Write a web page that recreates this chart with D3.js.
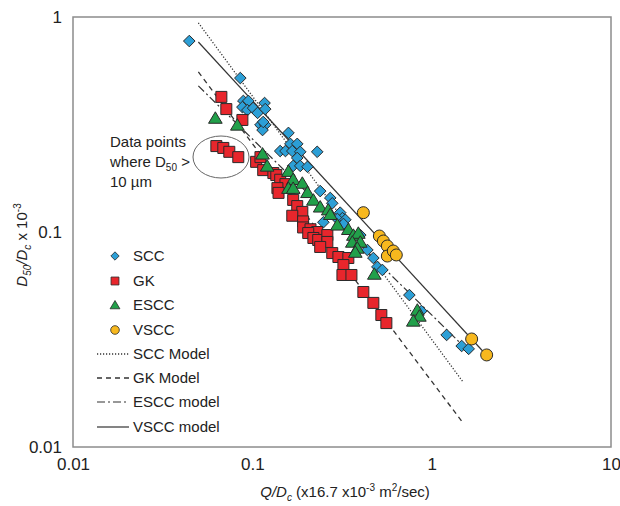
<!DOCTYPE html>
<html>
<head>
<meta charset="utf-8">
<script src="https://cdn.jsdelivr.net/npm/d3@7"></script>
<style>
body { margin: 0; background: #fff; }
text { font-family: "Liberation Sans", Arial, sans-serif; fill: #222; }
</style>
</head>
<body>
<svg id="chart" width="620" height="506"></svg>
<script>
// data: [Q/Dc, D50/Dc]
var scc = [[0.0445,0.773],[0.0857,0.520],[0.0891,0.407],[0.0950,0.407],[0.0880,0.381],[0.0938,0.369],
  [0.101,0.377],[0.107,0.358],[0.117,0.398],[0.118,0.373],[0.111,0.315],[0.118,0.315],[0.114,0.298],
  [0.115,0.325],[0.159,0.289],[0.163,0.257],[0.178,0.257],[0.143,0.238],[0.153,0.238],[0.167,0.238],
  [0.185,0.236],[0.230,0.236],[0.178,0.221],[0.169,0.203],[0.185,0.203],[0.203,0.201],[0.239,0.155],
  [0.272,0.144],[0.279,0.136],[0.249,0.111],[0.309,0.123],[0.318,0.116],[0.298,0.115],[0.330,0.114],
  [0.322,0.109],[0.400,0.0968],[0.438,0.0825],[0.473,0.0757],[0.498,0.0688],[0.531,0.0666],
  [0.751,0.0509],[0.876,0.0429],[1.212,0.0332],[1.470,0.0295],[1.608,0.0286]];
var gk = [[0.0672,0.425],[0.0716,0.373],[0.0880,0.332],[0.0630,0.251],[0.0689,0.246],[0.0744,0.236],
  [0.0835,0.223],[0.105,0.212],[0.111,0.223],[0.115,0.194],[0.131,0.188],[0.136,0.184],[0.143,0.175],
  [0.153,0.167],[0.138,0.160],[0.140,0.152],[0.169,0.141],[0.178,0.132],[0.190,0.124],[0.167,0.119],
  [0.192,0.112],[0.192,0.105],[0.211,0.103],[0.230,0.100],[0.205,0.0989],[0.219,0.0938],[0.233,0.0918],
  [0.262,0.0968],[0.262,0.0899],[0.239,0.0852],[0.279,0.0798],[0.302,0.0765],[0.343,0.0757],
  [0.322,0.0702],[0.318,0.0631],[0.357,0.0631],[0.416,0.0526],[0.473,0.0468],[0.524,0.0411],[0.559,0.0377]];
var escc = [[0.0622,0.339],[0.0825,0.315],[0.114,0.231],[0.121,0.203],[0.159,0.192],[0.169,0.176],
  [0.190,0.169],[0.159,0.160],[0.169,0.160],[0.203,0.153],[0.219,0.141],[0.239,0.131],[0.265,0.127],
  [0.272,0.121],[0.298,0.108],[0.343,0.103],[0.366,0.0968],[0.390,0.0989],[0.361,0.0899],[0.400,0.0899],
  [0.385,0.0843],[0.375,0.0807],[0.479,0.0638],[0.832,0.0434],[0.854,0.0407],[0.790,0.0386]];
var vscc = [[0.416,0.123],[0.511,0.0958],[0.538,0.0908],[0.566,0.0861],[0.566,0.0773],[0.611,0.0816],
  [0.635,0.0782],[1.671,0.0318],[2.026,0.0268]];

// model lines (end points)
var sccModel = [[0.05,0.94],[1.5,0.020]];
var gkModel = [[0.05,0.555],[1.5,0.0129]];
var esccModel = [[0.05,0.478],[1.6,0.028]];
var vsccModel = [[0.05,0.765],[2.0,0.027]];

var xTicks = [0.01, 0.1, 1, 10];
var xLabels = ["0.01", "0.1", "1", "10"];
var yTicks = [0.01, 0.1, 1];
var yLabels = ["0.01", "0.1", "1"];

var plotL = 73, plotR = 611, plotT = 17, plotB = 447;
var svg = d3.select("#chart");
var x = d3.scaleLog().domain([0.01, 10]).range([plotL, plotR]);
var y = d3.scaleLog().domain([0.01, 1]).range([plotB, plotT]);

// frame
svg.append("rect").attr("x", plotL).attr("y", plotT).attr("width", plotR - plotL).attr("height", plotB - plotT)
  .style("fill", "none").style("stroke", "#8c8c8c").style("stroke-width", 1.5);

// axes (labels only)
var xAxis = svg.append("g").attr("transform", "translate(0," + plotB + ")")
  .call(d3.axisBottom(x).tickValues(xTicks).tickSize(0).tickPadding(11).tickFormat(function(d, i) { return xLabels[i]; }));
xAxis.select(".domain").remove();
xAxis.selectAll("text").style("font-size", "17px").style("fill", "#222");
var yAxis = svg.append("g").attr("transform", "translate(" + (plotL - 11) + ",0)")
  .call(d3.axisLeft(y).tickValues(yTicks).tickSize(0).tickPadding(0).tickFormat(function(d, i) { return yLabels[i]; }));
yAxis.select(".domain").remove();
yAxis.selectAll("text").style("font-size", "17px").style("fill", "#222");

// axis titles
var xt = svg.append("text").attr("x", 345).attr("y", 497).style("text-anchor", "middle").style("font-size", "15px");
xt.append("tspan").style("font-style", "italic").text("Q/D");
xt.append("tspan").style("font-style", "italic").style("font-size", "10px").attr("dy", 4).text("c");
xt.append("tspan").attr("dy", -4).text(" (x16.7 x10");
xt.append("tspan").style("font-size", "10px").attr("dy", -6).text("-3");
xt.append("tspan").attr("dy", 6).text(" m");
xt.append("tspan").style("font-size", "10px").attr("dy", -6).text("2");
xt.append("tspan").attr("dy", 6).text("/sec)");

var yt = svg.append("text").attr("transform", "translate(27,245) rotate(-90)").style("text-anchor", "middle").style("font-size", "15px");
yt.append("tspan").style("font-style", "italic").text("D");
yt.append("tspan").style("font-style", "italic").style("font-size", "10px").attr("dy", 4).text("50");
yt.append("tspan").style("font-style", "italic").attr("dy", -4).text("/D");
yt.append("tspan").style("font-style", "italic").style("font-size", "10px").attr("dy", 4).text("c");
yt.append("tspan").attr("dy", -4).text("  x 10");
yt.append("tspan").style("font-size", "10px").attr("dy", -6).text("-3");

// model lines
var line = d3.line().x(function(d) { return x(d[0]); }).y(function(d) { return y(d[1]); });
var models = [
  {name: "SCC Model", data: sccModel, dash: "1.2,1.8", w: 1.3},
  {name: "GK Model", data: gkModel, dash: "5,4", w: 1.3},
  {name: "ESCC model", data: esccModel, dash: "8,3,2,3", w: 1.2},
  {name: "VSCC model", data: vsccModel, dash: null, w: 1.2}
];
models.forEach(function(m) {
  svg.append("path").datum(m.data).attr("d", line)
    .style("fill", "none").style("stroke", "#333").style("stroke-width", m.w)
    .style("stroke-dasharray", m.dash);
});

// marker shapes
function diamond(s) { return "M0," + (-s) + "L" + s + ",0L0," + s + "L" + (-s) + ",0Z"; }
function square(s) { return "M" + (-s) + "," + (-s) + "h" + (2 * s) + "v" + (2 * s) + "h" + (-2 * s) + "Z"; }
function triangle(s) { return "M0," + (-s) + "L" + (s * 1.1) + "," + (s * 0.85) + "L" + (-s * 1.1) + "," + (s * 0.85) + "Z"; }
function circle(s) { return "M" + (-s) + ",0a" + s + "," + s + " 0 1,0 " + (2 * s) + ",0a" + s + "," + s + " 0 1,0 " + (-2 * s) + ",0Z"; }

var series = [
  {name: "SCC", data: scc, shape: diamond, size: 5.8, fill: "#2c9fd6"},
  {name: "GK", data: gk, shape: square, size: 5.5, fill: "#e8262c"},
  {name: "ESCC", data: escc, shape: triangle, size: 6.2, fill: "#21a04a"},
  {name: "VSCC", data: vscc, shape: circle, size: 6, fill: "#f7b81e"}
];
series.forEach(function(s) {
  svg.append("g").selectAll("path").data(s.data).enter().append("path")
    .attr("transform", function(d) { return "translate(" + x(d[0]) + "," + y(d[1]) + ")"; })
    .attr("d", s.shape(s.size))
    .style("fill", s.fill).style("stroke", "#2a2a2a").style("stroke-width", 1);
});

// annotation
svg.append("ellipse").attr("cx", 221).attr("cy", 157).attr("rx", 28).attr("ry", 21)
  .style("fill", "none").style("stroke", "#666").style("stroke-width", 1);
var ann = svg.append("g").style("font-size", "15px");
ann.append("text").attr("x", 110).attr("y", 147).text("Data points");
var a2 = ann.append("text").attr("x", 110).attr("y", 167);
a2.append("tspan").text("where D");
a2.append("tspan").style("font-size", "10px").attr("dy", 4).text("50");
a2.append("tspan").attr("dy", -4).text(" >");
ann.append("text").attr("x", 110).attr("y", 187).text("10 µm");

// legend
var legY = [256, 281, 305, 330, 354, 378, 402, 427];
var lg = svg.append("g").style("font-size", "15px");
series.forEach(function(s, i) {
  lg.append("path").attr("transform", "translate(115," + legY[i] + ")").attr("d", s.shape(s.size * 0.72))
    .style("fill", s.fill).style("stroke", "#2a2a2a").style("stroke-width", 0.8);
  lg.append("text").attr("x", 133).attr("y", legY[i] + 5).text(s.name);
});
models.forEach(function(m, i) {
  var yy = legY[i + 4];
  lg.append("line").attr("x1", 97).attr("x2", 129).attr("y1", yy).attr("y2", yy)
    .style("stroke", "#333").style("stroke-width", m.w).style("stroke-dasharray", m.dash);
  lg.append("text").attr("x", 133).attr("y", yy + 5).text(m.name);
});
</script>
</body>
</html>
